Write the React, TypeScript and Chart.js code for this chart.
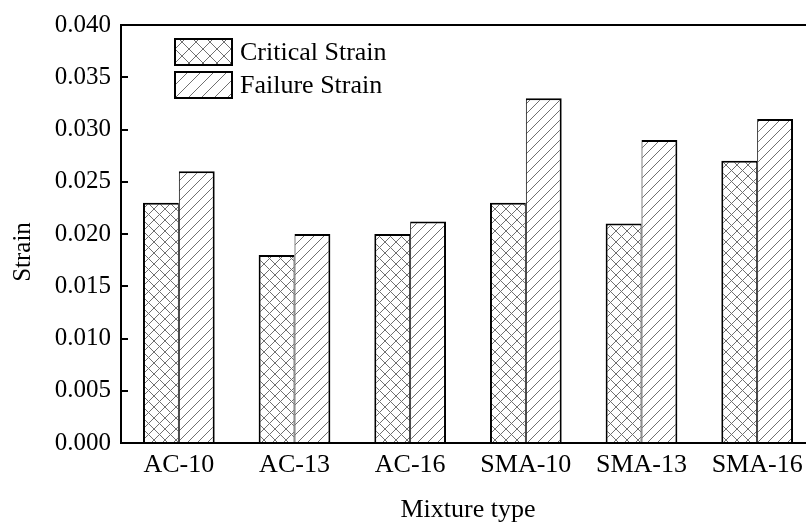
import { useEffect, useRef } from "react";
import { Chart, registerables } from "chart.js";

Chart.register(...registerables);

const categories = ["AC-10", "AC-13", "AC-16", "SMA-10", "SMA-13", "SMA-16"];
const criticalStrain = [0.023, 0.018, 0.02, 0.023, 0.021, 0.027];
const failureStrain = [0.026, 0.02, 0.0212, 0.033, 0.029, 0.031];
const seriesNames = ["Critical Strain", "Failure Strain"];
const yMin = 0;
const yMax = 0.04;
const yStep = 0.005;
const xTitle = "Mixture type";
const yTitle = "Strain";

const FONT = "'Liberation Serif', 'Times New Roman', serif";

function makePattern(kind: string, p: number, color: string) {
  const c = document.createElement("canvas");
  c.width = p;
  c.height = p;
  const g = c.getContext("2d")!;
  g.fillStyle = "#ffffff";
  g.fillRect(0, 0, p, p);
  g.strokeStyle = color;
  g.lineWidth = 1;
  const seg = (x1: number, y1: number, x2: number, y2: number) => {
    g.beginPath();
    g.moveTo(x1, y1);
    g.lineTo(x2, y2);
    g.stroke();
  };
  seg(-1, p + 1, p + 1, -1);
  seg(-1, 1, 1, -1);
  seg(p - 1, p + 1, p + 1, p - 1);
  if (kind === "cross") {
    seg(-1, -1, p + 1, p + 1);
    seg(p - 1, -1, p + 1, 1);
    seg(-1, p - 1, 1, p + 1);
  }
  return g.createPattern(c, "repeat")!;
}

export default function App() {
  const ref = useRef<HTMLCanvasElement>(null);

  useEffect(() => {
    const canvas = ref.current!;
    const crossBar = makePattern("cross", 11, "#707070");
    const diagBar = makePattern("diag", 10, "#707070");
    const crossLeg = makePattern("cross", 14, "#707070");
    const diagLeg = makePattern("diag", 13, "#707070");

    const framePlugin = {
      id: "frame",
      afterDatasetsDraw(chart: any) {
        const { ctx, chartArea } = chart;
        const { left, right, top, bottom } = chartArea;
        const ys = chart.scales.y;
        ctx.save();
        ctx.strokeStyle = "#000";
        ctx.lineWidth = 2;
        ctx.strokeRect(left, top, right - left, bottom - top);
        // inward ticks
        for (let v = yMin; v <= yMax + 1e-9; v += yStep) {
          const y = Math.round(ys.getPixelForValue(v));
          ctx.beginPath();
          ctx.moveTo(left, y);
          ctx.lineTo(left + 7, y);
          ctx.stroke();
        }
        // y title
        ctx.fillStyle = "#000";
        ctx.font = `25px ${FONT}`;
        ctx.textAlign = "center";
        ctx.textBaseline = "middle";
        ctx.translate(23, 252);
        ctx.rotate(-Math.PI / 2);
        ctx.fillText(yTitle, 0, 0);
        ctx.restore();

        // legend
        ctx.save();
        const pats = [crossLeg, diagLeg];
        const boxY = [39, 72];
        for (let i = 0; i < 2; i++) {
          ctx.fillStyle = pats[i];
          ctx.fillRect(175, boxY[i], 57, 26);
          ctx.strokeStyle = "#000";
          ctx.lineWidth = 2;
          ctx.strokeRect(175, boxY[i], 57, 26);
          ctx.fillStyle = "#000";
          ctx.font = `26px ${FONT}`;
          ctx.textAlign = "left";
          ctx.textBaseline = "middle";
          ctx.fillText(seriesNames[i], 240, boxY[i] + 14);
        }
        ctx.restore();
      },
    };

    const chart = new Chart(canvas, {
      type: "bar",
      data: {
        labels: categories,
        datasets: [
          {
            label: seriesNames[0],
            data: criticalStrain,
            backgroundColor: crossBar,
            borderColor: "#000",
            borderWidth: { top: 2, left: 2, right: 1, bottom: 0 },
            borderSkipped: false,
          },
          {
            label: seriesNames[1],
            data: failureStrain,
            backgroundColor: diagBar,
            borderColor: "#000",
            borderWidth: { top: 2, left: 1, right: 2, bottom: 0 },
            borderSkipped: false,
          },
        ],
      },
      options: {
        responsive: false,
        animation: false,
        devicePixelRatio: 1,
        layout: { padding: { top: 20, right: 5, left: 0, bottom: 0 } },
        plugins: {
          legend: { display: false },
          tooltip: { enabled: false },
        },
        datasets: {
          bar: { categoryPercentage: 0.62, barPercentage: 1.0 },
        },
        scales: {
          x: {
            grid: { display: false, drawTicks: false },
            border: { display: false },
            ticks: {
              color: "#000",
              font: { family: FONT, size: 26 },
              padding: 7,
              maxRotation: 0,
            },
            title: {
              display: true,
              text: xTitle,
              color: "#000",
              font: { family: FONT, size: 26 },
              padding: { top: 0, bottom: -1 },
            },
            afterFit: (s: any) => {
              s.height = 82;
            },
          },
          y: {
            min: yMin,
            max: yMax,
            grid: { display: false, drawTicks: false },
            border: { display: false },
            ticks: {
              stepSize: yStep,
              color: "#000",
              font: { family: FONT, size: 25 },
              padding: 10,
              callback: (v: any) => Number(v).toFixed(3),
            },
            afterFit: (s: any) => {
              s.width = 121;
            },
          },
        },
      },
      plugins: [framePlugin],
    });
    return () => chart.destroy();
  }, []);

  return (
    <div
      style={{
        position: "fixed",
        left: 0,
        top: 0,
        width: 806,
        height: 525,
        overflow: "hidden",
        background: "#fff",
      }}
    >
      <canvas ref={ref} width={820} height={525} style={{ width: 820, height: 525, display: "block" }} />
    </div>
  );
}
